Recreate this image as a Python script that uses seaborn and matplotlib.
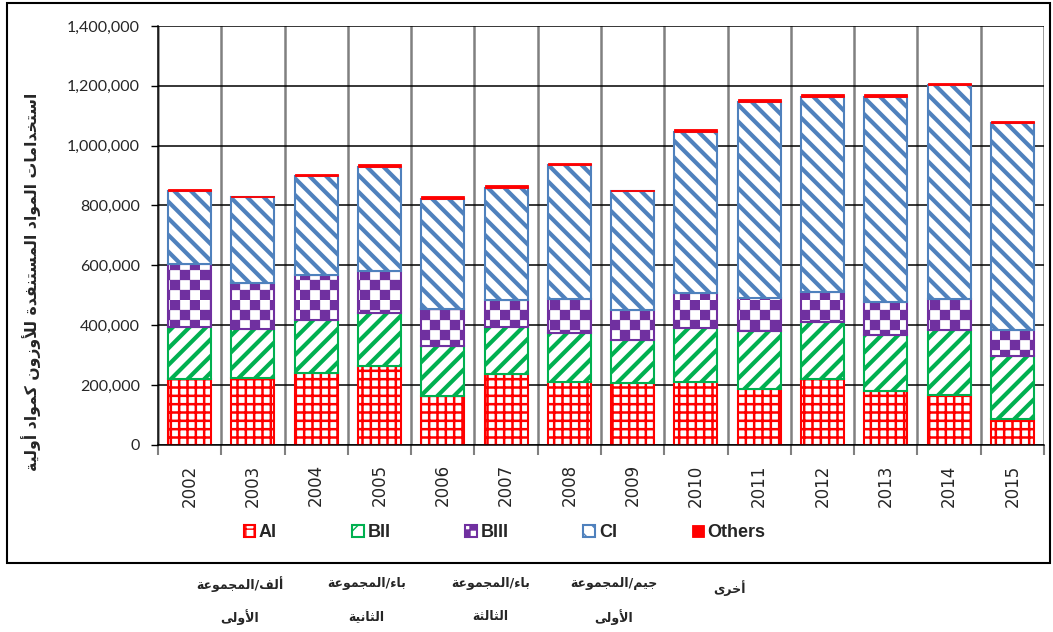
import numpy as np
import matplotlib
matplotlib.use("Agg")
import matplotlib.pyplot as plt
import matplotlib.hatch as mhatch
from matplotlib.path import Path
from matplotlib.patches import Rectangle
from matplotlib.ticker import StrMethodFormatter, FixedLocator
import seaborn as sns

# data (tonnes, stacked)
years = ['2002', '2003', '2004', '2005', '2006', '2007', '2008',
         '2009', '2010', '2011', '2012', '2013', '2014', '2015']
ai = [219000, 225000, 240000, 263000, 164000, 237000, 210000,
      206000, 210000, 186000, 219000, 180000, 167000, 86000]
bii = [175000, 162000, 178000, 177000, 165000, 158000, 165000,
       145000, 182000, 193000, 193000, 188000, 217000, 212000]
biii = [211000, 153000, 150000, 142000, 126000, 89000, 112000,
        100000, 115000, 111000, 100000, 109000, 104000, 86000]
ci = [244000, 287000, 329000, 348000, 368000, 376000, 449000,
      396000, 540000, 657000, 652000, 687000, 714000, 691000]
others = [5000, 6000, 8000, 8000, 8000, 7000, 7000,
          6000, 7000, 8000, 7000, 9000, 7000, 6000]

series_names = ['AI', 'BII', 'BIII', 'CI', 'Others']
y_ticks = [0, 200000, 400000, 600000, 800000, 1000000, 1200000, 1400000]

y_title = 'استخدامات المواد المستنفدة للأوزون كمواد أولية'
group_line1 = ['ألف/المجموعة', 'باء/المجموعة', 'باء/المجموعة', 'جيم/المجموعة', 'أخرى']
group_line2 = ['الأولى', 'الثانية', 'الثالثة', 'الأولى', '']


# --- tiny arabic shaper (matplotlib has no complex text layout) ---
_forms = [('ء', 0xFE80, 1), ('آ', 0xFE81, 2), ('أ', 0xFE83, 2), ('ؤ', 0xFE85, 2),
          ('إ', 0xFE87, 2), ('ئ', 0xFE89, 4), ('ا', 0xFE8D, 2), ('ب', 0xFE8F, 4),
          ('ة', 0xFE93, 2), ('ت', 0xFE95, 4), ('ث', 0xFE99, 4), ('ج', 0xFE9D, 4),
          ('ح', 0xFEA1, 4), ('خ', 0xFEA5, 4), ('د', 0xFEA9, 2), ('ذ', 0xFEAB, 2),
          ('ر', 0xFEAD, 2), ('ز', 0xFEAF, 2), ('س', 0xFEB1, 4), ('ش', 0xFEB5, 4),
          ('ص', 0xFEB9, 4), ('ض', 0xFEBD, 4), ('ط', 0xFEC1, 4), ('ظ', 0xFEC5, 4),
          ('ع', 0xFEC9, 4), ('غ', 0xFECD, 4), ('ف', 0xFED1, 4), ('ق', 0xFED5, 4),
          ('ك', 0xFED9, 4), ('ل', 0xFEDD, 4), ('م', 0xFEE1, 4), ('ن', 0xFEE5, 4),
          ('ه', 0xFEE9, 4), ('و', 0xFEED, 2), ('ى', 0xFEEF, 2), ('ي', 0xFEF1, 4)]
TABLE = {c: (b, k) for c, b, k in _forms}
LAMALEF = {'آ': 0xFEF5, 'أ': 0xFEF7, 'إ': 0xFEF9, 'ا': 0xFEFB}


def shape(text):
    out = []
    prev = None
    i = 0
    n = len(text)
    while i < n:
        c = text[i]
        if c not in TABLE:
            out.append(c)
            prev = None
            i += 1
            continue
        p_join = prev is not None and TABLE[prev][1] == 4
        if c == 'ل' and i + 1 < n and text[i + 1] in LAMALEF:
            out.append(chr(LAMALEF[text[i + 1]] + (1 if p_join else 0)))
            prev = 'ا'
            i += 2
            continue
        nxt = text[i + 1] if i + 1 < n else None
        n_join = TABLE[c][1] == 4 and nxt in TABLE and TABLE[nxt][1] >= 2
        base, k = TABLE[c]
        if k == 1:
            form = 0
        elif k == 2:
            form = 1 if p_join else 0
        else:
            form = (3 if n_join else 1) if p_join else (2 if n_join else 0)
        out.append(chr(base + form))
        prev = c
        i += 1
    return ''.join(reversed(out))


# --- checkerboard hatch (takes the place of '*') ---
class CheckerHatch(mhatch.HatchPatternBase):
    def __init__(self, hatch, density):
        self.n = 10 if '*' in hatch else 0
        self.num_vertices = (self.n * self.n // 2) * 5

    def set_vertices_and_codes(self, vertices, codes):
        s = 1.0 / self.n
        j = 0
        for r in range(self.n):
            for c in range(self.n):
                if (r + c) % 2 == 0:
                    x0, y0 = c * s, r * s
                    vertices[j:j + 5] = [[x0, y0], [x0 + s, y0], [x0 + s, y0 + s],
                                         [x0, y0 + s], [x0, y0]]
                    codes[j:j + 5] = [Path.MOVETO, Path.LINETO, Path.LINETO,
                                      Path.LINETO, Path.CLOSEPOLY]
                    j += 5


mhatch._hatch_types = [h for h in mhatch._hatch_types if h is not mhatch.Stars] + [CheckerHatch]

sns.set_style("white")
plt.rcParams['font.family'] = ['Lato', 'DejaVu Sans']

fig = plt.figure(figsize=(10.53, 6.32), dpi=100)
ax = fig.add_axes([0.150, 0.296, 0.8415, 0.663])

styles = [
    dict(edge='#FF0000', hatch='++', hlw=1.8),
    dict(edge='#00B050', hatch='//', hlw=3.0),
    dict(edge='#7030A0', hatch='*', hlw=0.2),
    dict(edge='#4F81BD', hatch='\\\\', hlw=3.0),
]
layers = [ai, bii, biii, ci]
bottom = np.zeros(len(years))
for vals, st in zip(layers, styles):
    with plt.rc_context({'hatch.linewidth': st['hlw']}):
        sns.barplot(x=years, y=vals, bottom=bottom, width=0.68, color=st['edge'],
                    facecolor='white', edgecolor=st['edge'], linewidth=1.5,
                    hatch=st['hatch'], errorbar=None, ax=ax)
    for bar in ax.containers[-1]:
        if hasattr(bar, 'set_hatch_linewidth'):
            bar.set_hatch_linewidth(st['hlw'])
    bottom = bottom + np.array(vals)

sns.barplot(x=years, y=others, bottom=bottom, width=0.68, color='#FF0000',
            facecolor='#FF0000', edgecolor='#FF0000', linewidth=0.6,
            errorbar=None, ax=ax)

ax.set_xlabel('')
ax.set_ylabel('')
ax.set_xlim(-0.5, len(years) - 0.5)
ax.set_ylim(0, 1400000)
ax.set_yticks(y_ticks)
ax.yaxis.set_major_formatter(StrMethodFormatter('{x:,.0f}'))

ax.xaxis.set_minor_locator(FixedLocator(np.arange(len(years) + 1) - 0.5))
ax.tick_params(axis='x', which='major', length=0, pad=14, labelsize=12,
               labelrotation=90, labelfontfamily='DejaVu Sans')
ax.tick_params(axis='x', which='minor', length=7, width=1.5, color='#808080',
               direction='out', bottom=True)
ax.tick_params(axis='y', which='major', length=5, width=1, color='black',
               direction='out', left=True, labelsize=11.5, pad=8)

ax.set_axisbelow(True)
ax.yaxis.grid(True, color='black', linewidth=1.1)
ax.xaxis.grid(True, which='minor', color='#808080', linewidth=1.8)
ax.xaxis.grid(False, which='major')
for side in ['top', 'right']:
    ax.spines[side].set_visible(False)
ax.spines['left'].set_color('black')
ax.spines['bottom'].set_color('black')
ax.spines['left'].set_linewidth(1.1)
ax.spines['bottom'].set_linewidth(1.1)

handles = [c[0] for c in ax.containers[:5]]
fig.legend(handles, series_names, loc='center', bbox_to_anchor=(0.479, 0.157),
           ncol=5, frameon=False, handlelength=0.65, handleheight=0.65,
           handletextpad=0.2, columnspacing=4.15,
           prop={'family': 'Liberation Sans', 'weight': 'bold', 'size': 13})

fig.text(0.029, 0.554, shape(y_title), rotation=90, ha='center', va='center',
         fontsize=11.3, fontweight='bold', family='DejaVu Sans')

fig.patches.append(Rectangle((0.0066, 0.109), 0.9905, 0.886, transform=fig.transFigure,
                             fill=False, edgecolor='black', linewidth=1.5))

group_x = [0.228, 0.348, 0.466, 0.583, 0.693]
for gx, l1, l2 in zip(group_x, group_line1, group_line2):
    if l2:
        fig.text(gx, 0.076, shape(l1), ha='center', va='center', fontsize=9,
                 fontweight='bold', family='DejaVu Sans')
        fig.text(gx, 0.024, shape(l2), ha='center', va='center', fontsize=9,
                 fontweight='bold', family='DejaVu Sans')
    else:
        fig.text(gx, 0.069, shape(l1), ha='center', va='center', fontsize=9,
                 fontweight='bold', family='DejaVu Sans')

fig.savefig('out.png', dpi=100)
